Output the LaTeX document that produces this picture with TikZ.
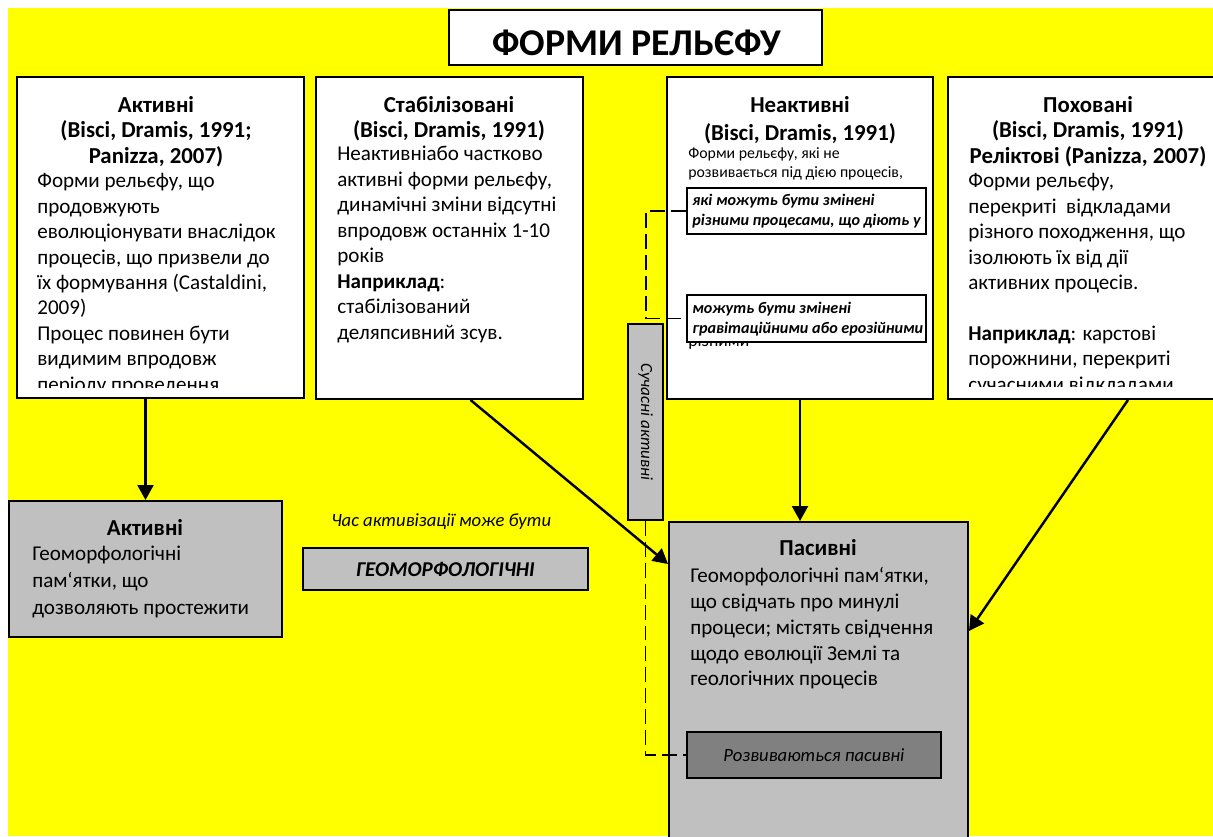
\documentclass[tikz,border=0pt]{standalone}
\usepackage{fontspec}
\setmainfont{Carlito}
\usetikzlibrary{arrows.meta,fit}
\definecolor{bgyellow}{RGB}{255,255,0}
\definecolor{silver}{RGB}{192,192,192}
\definecolor{midgrey}{RGB}{128,128,128}

\begin{document}
\begin{tikzpicture}[x=0.02cm, y=-0.02cm]
  \tikzstyle{frame} = [rectangle, draw, line width=1.1pt, fill=white, inner sep=0pt]
  \tikzstyle{greybox} = [frame, fill=silver]
  \tikzstyle{head} = [align=center, anchor=north, inner sep=0pt, font=\bfseries\fontsize{13}{14.5}\selectfont]
  \tikzstyle{body} = [align=left, anchor=north west, inner sep=0pt, font=\fontsize{12}{14.5}\selectfont]
  \tikzstyle{note} = [align=left, anchor=north west, inner sep=0pt, font=\bfseries\itshape\fontsize{9.2}{11.5}\selectfont]
  \tikzstyle{arrow} = [line width=1.4pt, -{Triangle[length=8.5pt, width=9pt]}]
  \tikzstyle{link} = [line width=1pt, dash pattern=on 8.5pt off 3.4pt]

  % Background
  \useasboundingbox (0,0) rectangle (1213,836);
  \fill [bgyellow] (8,8) rectangle (1213,836);

  % Title
  \node [frame, fit={(449,10) (822,65)}] (title) {};
  \node [font=\bfseries\fontsize{21.5}{25}\selectfont] (titletext) at (637,43) {ФОРМИ РЕЛЬЄФУ};

  % Layer 1: kinds of landforms
  \node [frame, fit={(17,77) (304,398)}] (act) {};
  \node [frame, fit={(316,77) (583,399)}] (stab) {};
  \node [frame, fit={(667,77) (933,399)}] (inact) {};
  \node [frame, fit={(948,77) (1228,399)}] (bur) {};

  \node [head] (act-h) at (156,96) {Активні\\(Bisci, Dramis, 1991;\\Panizza, 2007)};
  \begin{scope}
    \clip (17,77) rectangle (304,387);
    \node [body] (act-b) at (37,173) {Форми рельєфу, що\\продовжують\\еволюціонувати внаслідок\\процесів, що призвели до\\їх формування (Castaldini,\\2009)\\Процес повинен бути\\видимим впродовж\\періоду проведення};
  \end{scope}

  \node [head] (stab-h) at (449,96) {Стабілізовані\\(Bisci, Dramis, 1991)};
  \node [body] (stab-b) at (337,146) {Неактивніабо частково\\активні форми рельєфу,\\динамічні зміни відсутні\\впродовж останніх 1-10\\років\\\textbf{Наприклад}:\\стабілізований\\деляпсивний зсув.};

  \node [head, font=\bfseries\fontsize{13}{16}\selectfont] (inact-h) at (800,96) {Неактивні\\(Bisci, Dramis, 1991)};
  \node [body, font=\fontsize{9}{11}\selectfont] (inact-b) at (688,147) {Форми рельєфу, які не\\розвивається під дією процесів,};
  \node [body, font=\fontsize{10}{12}\selectfont] (inact-r) at (688,334) {різними};
  \node [frame, fit={(687,188) (926,234)}] (ib1) {};
  \node [note] (ib1-t) at (692,194) {які можуть бути змінені\\різними процесами, що діють у};
  \node [frame, fit={(687,295) (926,342)}] (ib2) {};
  \node [note] (ib2-t) at (692,302) {можуть бути змінені\\гравітаційними або ерозійними};

  \node [head] (bur-h) at (1088,96) {Поховані\\(Bisci, Dramis, 1991)\\Реліктові (Panizza, 2007)};
  \begin{scope}
    \clip (948,77) rectangle (1228,386);
    \node [body] (bur-b) at (968,173) {Форми рельєфу,\\перекриті\ \ відкладами\\різного походження, що\\ізолюють їх від дії\\активних процесів.\\[14.5pt]\textbf{Наприклад}: карстові\\порожнини, перекриті\\сучасними відкладами};
  \end{scope}

  % Layer 2: geomorphological heritage
  \node [greybox, fit={(9,501) (282,637)}] (geoact) {};
  \node [head] (geoact-h) at (145,519) {Активні};
  \node [body, font=\fontsize{12}{15.3}\selectfont] (geoact-b) at (32,546) {Геоморфологічні\\пам‘ятки, що\\дозволяють простежити};

  \node [font=\itshape\fontsize{10.6}{12}\selectfont, anchor=west, inner sep=0pt] (time) at (331,522) {Час активізації може бути};
  \node [greybox, fit={(303,548) (588,590)}] (geo) {};
  \node [font=\bfseries\itshape\fontsize{12}{14}\selectfont] (geo-t) at (geo.center) {ГЕОМОРФОЛОГІЧНІ};

  \node [greybox, fit={(628,324) (663,520)}] (now) {};
  \node [rotate=-90, font=\itshape\fontsize{9.7}{11}\selectfont] (now-t) at (now.center) {Сучасні активні};

  \node [greybox, fit={(669,522) (968,860)}] (pas) {};
  \node [head] (pas-h) at (818,539) {Пасивні};
  \node [body, font=\fontsize{12}{14.7}\selectfont] (pas-b) at (690,567) {Геоморфологічні пам‘ятки,\\що свідчать про минулі\\процеси; містять свідчення\\щодо еволюції Землі та\\геологічних процесів};
  \node [frame, fill=midgrey, fit={(687,732) (941,778)}] (dev) {};
  \node [font=\itshape\fontsize{10.6}{12}\selectfont] (dev-t) at (dev.center) {Розвиваються пасивні};

  % Arrows
  \draw [arrow] (geoact.north |- act.south) -- (geoact.north);
  \draw [arrow] ([xshift=0.42cm]stab.south) -- ([yshift=-0.86cm]pas.north west);
  \draw [arrow] (inact.south) -- (inact.south |- pas.north);
  \draw [arrow] ([xshift=0.8cm]bur.south) -- ([yshift=-2.2cm]pas.north east);

  % Dashed links
  \coordinate (bar) at (646,0);
  \draw [link] (ib1.west) -- (ib1.west -| bar) -- (ib2.west -| bar) -- (ib2.west);
  \draw [link] (now.south) -- (now.south |- dev.west) -- (dev.west);

\end{tikzpicture}
\end{document}
